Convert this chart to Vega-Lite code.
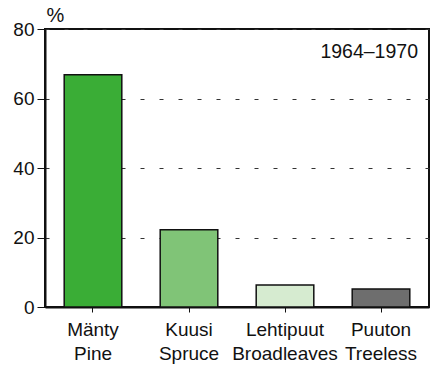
{
  "$schema": "https://vega.github.io/schema/vega-lite/v6.json",
  "autosize": "none",
  "width": 384,
  "height": 278,
  "padding": {"left": 45, "top": 29, "right": 5, "bottom": 59},
  "background": "white",
  "config": {
    "font": "Liberation Sans",
    "view": {"stroke": "#111", "strokeWidth": 2}
  },
  "layer": [
    {
      "data": {
        "values": [
          {"cls": "Mänty Pine", "pct": 66.8, "color": "#3aad36"},
          {"cls": "Kuusi Spruce", "pct": 22.2, "color": "#80c477"},
          {"cls": "Lehtipuut Broadleaves", "pct": 6.3, "color": "#d6ebd0"},
          {"cls": "Puuton Treeless", "pct": 5.2, "color": "#6e6e6e"}
        ]
      },
      "mark": {"type": "bar", "stroke": "#111", "strokeWidth": 1.5},
      "encoding": {
        "x": {
          "field": "cls", "type": "nominal",
          "scale": {"domain": ["Mänty Pine", "Kuusi Spruce", "Lehtipuut Broadleaves", "Puuton Treeless"], "paddingInner": 0.4, "paddingOuter": 0.2},
          "axis": {
            "title": null, "labelAngle": 0, "labelFontSize": 19, "labelColor": "#111",
            "labelExpr": "split(datum.label, ' ')", "labelLineHeight": 24,
            "labelPadding": 8, "tickSize": 5, "tickColor": "#111", "domainColor": "#111",
            "domainWidth": 2, "labelLimit": 0
          }
        },
        "y": {
          "field": "pct", "type": "quantitative",
          "scale": {"domain": [0, 80], "nice": false},
          "axis": {
            "values": [0, 20, 40, 60, 80], "title": "%", "titleAngle": 0,
            "titleFontSize": 20, "titleFontWeight": "normal", "titleColor": "#111",
            "titleAlign": "left", "titleBaseline": "alphabetic",
            "titleX": 1, "titleY": -8,
            "labelFontSize": 19, "labelColor": "#111", "labelPadding": 3,
            "tickSize": 8, "tickColor": "#111", "domainColor": "#111", "domainWidth": 2,
            "grid": true, "gridColor": "#333", "gridDash": [4, 15], "gridWidth": 1
          }
        },
        "fill": {"field": "color", "type": "nominal", "scale": null, "legend": null}
      }
    },
    {
      "data": {"values": [{"cls": "Puuton Treeless", "pct": 73.4, "label": "1964–1970"}]},
      "mark": {"type": "text", "align": "right", "baseline": "middle", "fontSize": 19.5, "fill": "#111", "dx": 37},
      "encoding": {
        "x": {"field": "cls", "type": "nominal"},
        "y": {"field": "pct", "type": "quantitative"},
        "text": {"field": "label"}
      }
    }
  ]
}
